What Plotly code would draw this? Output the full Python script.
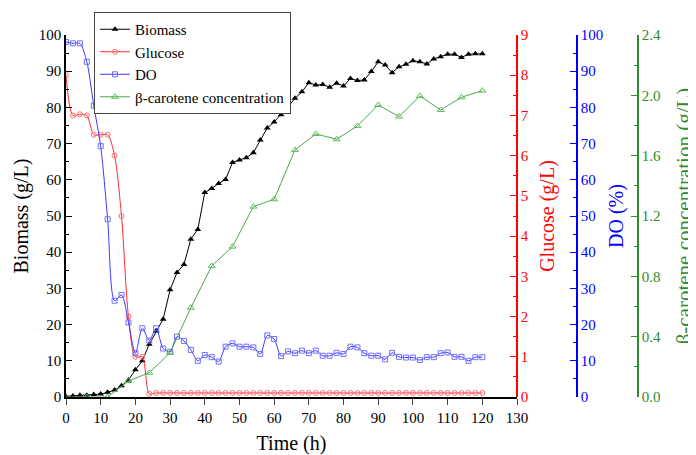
import plotly.graph_objects as go

# ---- data ----
time_biomass = list(range(0, 121, 2))
biomass = [0.2, 0.3, 0.5, 0.5, 0.7, 0.8, 1.3, 1.9, 3.1, 4.7, 7.5, 10.0, 14.6, 18.2, 21.5,
           29.6, 34.4, 36.6, 43.6, 46.3, 56.5, 57.6, 59.0, 60.1, 64.8, 65.5, 66.1, 67.5,
           71.0, 74.3, 76.0, 78.0, 80.2, 82.5, 84.3, 86.8, 86.2, 86.3, 85.6, 86.7, 85.9,
           88.0, 87.4, 87.6, 89.9, 92.6, 91.7, 89.6, 91.2, 91.9, 92.9, 92.6, 92.0, 93.4,
           94.0, 94.7, 94.7, 93.8, 94.7, 94.8, 94.8]

time_glucose = list(range(0, 121, 2))
glucose = [8.0, 7.0, 7.03, 7.0, 6.52, 6.52, 6.52, 6.0, 4.5, 2.0, 1.0, 1.0, 0.08] + [0.1] * 48

time_do = list(range(0, 121, 2))
do = [98.1, 97.7, 97.7, 92.6, 80.5, 69.3, 49.1, 26.6, 28.2, 20.6, 12.1, 19.0, 15.6, 19.0,
      13.4, 12.5, 16.7, 15.5, 13.0, 10.0, 11.6, 11.0, 9.8, 13.9, 14.8, 13.9, 13.9, 13.7,
      11.9, 17.0, 16.0, 11.3, 12.6, 12.1, 12.8, 12.1, 12.8, 11.4, 11.4, 12.2, 11.9, 13.9,
      13.7, 12.1, 11.4, 11.4, 10.4, 12.2, 11.1, 10.9, 10.9, 10.2, 11.0, 11.0, 12.1, 12.3,
      11.1, 11.1, 10.0, 11.0, 11.0]

time_carotene = list(range(0, 121, 6))
carotene = [0.0, 0.0, 0.0, 0.106, 0.161, 0.294, 0.592, 0.869, 0.997, 1.262, 1.311, 1.638,
            1.744, 1.709, 1.797, 1.936, 1.859, 1.996, 1.903, 1.987, 2.031]

x_ticks = list(range(0, 131, 10))

FONT = "Liberation Serif, Times New Roman, DejaVu Serif, serif"
RED = "#ff0000"
BLUE = "#0000ff"
GREEN = "#2e8b2e"

fig = go.Figure()
fig.add_trace(go.Scatter(x=time_biomass, y=biomass, name="Biomass", mode="lines+markers",
                         line=dict(color="black", width=1),
                         marker=dict(symbol="triangle-up", size=6, color="black"),
                         yaxis="y"))
fig.add_trace(go.Scatter(x=time_glucose, y=glucose, name="Glucose", mode="lines+markers",
                         line=dict(color="#ff2a2a", width=1, shape="spline", smoothing=0.8),
                         marker=dict(symbol="circle-open", size=5, color="#ff6e6e", line=dict(width=1)),
                         yaxis="y2"))
fig.add_trace(go.Scatter(x=time_do, y=do, name="DO", mode="lines+markers",
                         line=dict(color="#3a3aff", width=1, shape="spline", smoothing=0.8),
                         marker=dict(symbol="square-open", size=5, color="#7070ff", line=dict(width=1)),
                         yaxis="y3"))
fig.add_trace(go.Scatter(x=time_carotene, y=carotene, name="β-carotene concentration",
                         mode="lines+markers",
                         line=dict(color="#4caa4c", width=1),
                         marker=dict(symbol="triangle-up-open", size=6, color="#5cb85c", line=dict(width=1)),
                         yaxis="y4"))

# page body adds an 8px offset; figure coordinates = reference pixels - 8
OFF = 8
W, H = 696 - OFF, 455 - OFF
ML, MR, MT, MB = 66 - OFF, 0, 2, H - (397 - OFF)
pw = W - ML - MR
ph = H - MT - MB
xd_end = 451 / pw
yd_end = 362 / ph
pos_do = (577 - 66) / pw
pos_car = (638 - 66) / pw

common = dict(showgrid=False, zeroline=False, showline=True, linewidth=1.5,
              ticks="inside", ticklen=6, tickwidth=1.2, domain=[0, yd_end],
              tickfont=dict(family=FONT, size=15))

fig.update_layout(
    width=W, height=H,
    margin=dict(l=ML, r=MR, t=MT, b=MB, autoexpand=False),
    paper_bgcolor="white", plot_bgcolor="white",
    font=dict(family=FONT, size=15, color="black"),
    showlegend=True,
    legend=dict(x=(94 - 66) / pw, y=(397 - 12) / ph, xanchor="left", yanchor="top",
                bgcolor="white", bordercolor="#444444", borderwidth=1,
                font=dict(family=FONT, size=15), tracegroupgap=0),
    xaxis=dict(domain=[0, xd_end], range=[0, 130], tickvals=x_ticks,
               showgrid=False, zeroline=False, showline=True, linewidth=1.5, linecolor="black",
               ticks="outside", ticklen=6, tickwidth=1.2,
               tickfont=dict(family=FONT, size=15),
               title=dict(text="Time (h)", font=dict(family=FONT, size=20), standoff=20)),
    yaxis=dict(range=[0, 100], dtick=10, linecolor="black", tickcolor="black",
               minor=dict(ticks="inside", dtick=5, ticklen=3, tickcolor="black"),
               title=dict(text="Biomass (g/L)", font=dict(family=FONT, size=20), standoff=5),
               **common),
    yaxis2=dict(range=[0, 9], dtick=1, overlaying="y", side="right", anchor="free",
                position=xd_end, linecolor=RED, tickcolor=RED,
                minor=dict(ticks="inside", dtick=0.5, ticklen=3, tickcolor=RED),
                title=dict(text="Glucose (g/L)", font=dict(family=FONT, size=20, color=RED), standoff=11),
                **{**common, "tickfont": dict(family=FONT, size=15, color=RED)}),
    yaxis3=dict(range=[0, 100], dtick=10, overlaying="y", side="right", anchor="free",
                position=pos_do, linecolor=BLUE, tickcolor=BLUE,
                minor=dict(ticks="inside", dtick=5, ticklen=3, tickcolor=BLUE),
                title=dict(text="DO (%)", font=dict(family=FONT, size=20, color=BLUE), standoff=6),
                **{**common, "tickfont": dict(family=FONT, size=15, color=BLUE)}),
    yaxis4=dict(range=[0, 2.4], dtick=0.4, tickformat=".1f", overlaying="y", side="right",
                anchor="free", position=pos_car, linecolor=GREEN, tickcolor=GREEN,
                minor=dict(ticks="inside", dtick=0.2, ticklen=3, tickcolor=GREEN),
                title=dict(text="β-carotene concentration (g/L)",
                           font=dict(family=FONT, size=21, color=GREEN), standoff=26),
                **{**common, "tickfont": dict(family=FONT, size=15, color=GREEN)}),
)

fig.write_html("out.html")
